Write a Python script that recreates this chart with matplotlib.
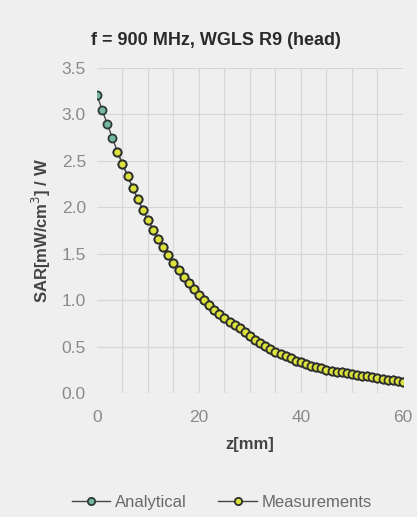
import matplotlib.pyplot as plt

# z positions (mm) and SAR values
z_mm = list(range(0, 61))
analytical_sar = [
    3.21, 3.05, 2.90, 2.75, 2.60, 2.465, 2.34, 2.21, 2.09, 1.97,
    1.86, 1.76, 1.66, 1.57, 1.49, 1.40, 1.32, 1.25, 1.18, 1.12,
    1.06, 1.00, 0.945, 0.895, 0.85, 0.81, 0.77, 0.73, 0.695, 0.655,
    0.615, 0.575, 0.54, 0.505, 0.475, 0.445, 0.42, 0.395, 0.372, 0.35,
    0.33, 0.312, 0.295, 0.28, 0.265, 0.25, 0.24, 0.231, 0.222, 0.213,
    0.205, 0.196, 0.187, 0.178, 0.168, 0.159, 0.151, 0.143, 0.136, 0.129,
    0.12,
]
# measurements start at z = 4 mm
meas_z = z_mm[4:]
meas_sar = analytical_sar[4:]

x_ticks = [0, 20, 40, 60]
y_ticks = [0.0, 0.5, 1.0, 1.5, 2.0, 2.5, 3.0, 3.5]

plt.rcParams["font.family"] = ["Liberation Sans", "DejaVu Sans"]

bg = "#efefef"
fig = plt.figure(figsize=(4.17, 5.17), dpi=100, facecolor=bg)
ax = fig.add_axes([0.2326, 0.2398, 0.7338, 0.6286], facecolor=bg)

# faint scanned-looking grid
for x in range(5, 60, 5):
    ax.axvline(x, color="#d6d6d6", lw=0.8, zorder=0)
for y in y_ticks:
    ax.axhline(y, color="#d6d6d6", lw=0.8, zorder=0)

ax.plot(z_mm, analytical_sar, "-o", color="#444444", lw=1.0,
        markersize=5.8, markerfacecolor="#74b8a2", markeredgecolor="#2f3a35",
        markeredgewidth=1.3, label="Analytical", zorder=3)
ax.plot(meas_z, meas_sar, "-o", color="#444444", lw=1.0,
        markersize=5.8, markerfacecolor="#dce23c", markeredgecolor="#2e2e2e",
        markeredgewidth=1.3, label="Measurements", zorder=4)

ax.set_xlim(0, 60)
ax.set_ylim(0, 3.5)
ax.set_xticks(x_ticks)
ax.set_yticks(y_ticks)
ax.set_yticklabels([f"{v:.1f}" for v in y_ticks])
ax.tick_params(length=0, labelsize=12.5, labelcolor="#8a8a8a")
ax.tick_params(axis="y", pad=8)
ax.tick_params(axis="x", pad=12)
for s in ax.spines.values():
    s.set_visible(False)

# title sits a bit left of the axes centre in the original
fig.text(0.518, 0.922, "f = 900 MHz, WGLS R9 (head)", ha="center", va="center",
         fontsize=13, fontweight="bold", color="#2a2a2a")
ax.set_xlabel("z[mm]", fontsize=12, fontweight="bold", color="#444444", labelpad=9)
ax.set_ylabel("SAR[mW/cm$^3$] / W", fontsize=12, fontweight="bold",
              color="#444444", labelpad=6)

fig.legend(loc="center", bbox_to_anchor=(0.532, 0.028), ncol=2, frameon=False,
           fontsize=12, labelcolor="#6a6a6a", handlelength=2.3, markerscale=0.9,
           handletextpad=0.3, columnspacing=1.9)

fig.savefig("out.png", dpi=100, facecolor=bg)
